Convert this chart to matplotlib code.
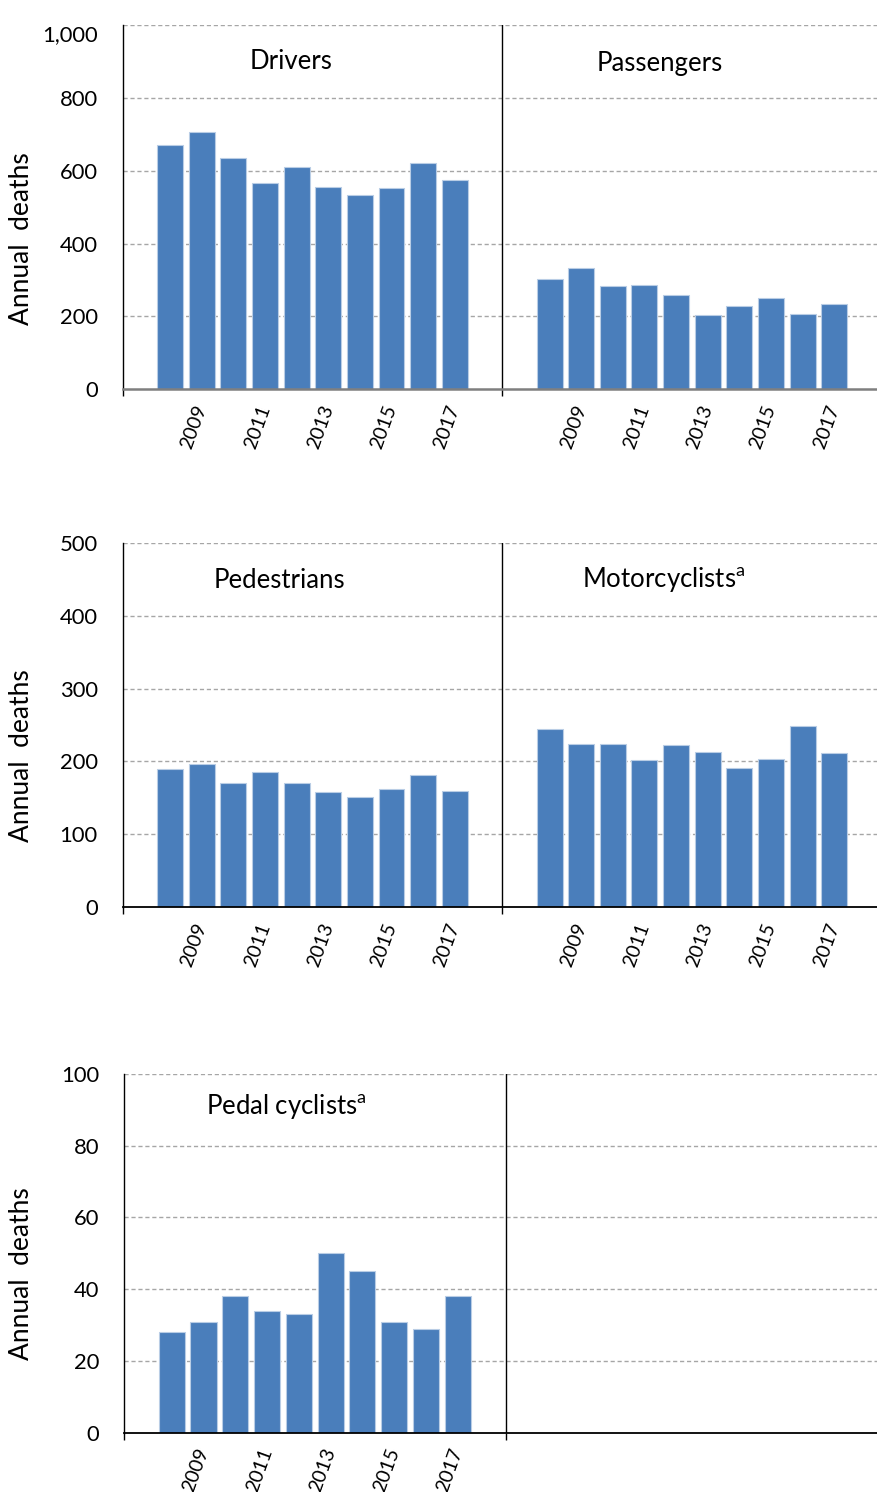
import matplotlib
matplotlib.use("Agg")
import matplotlib.pyplot as plt
from matplotlib.transforms import ScaledTranslation

plt.rcParams['font.family'] = ['Lato', 'DejaVu Sans']
plt.rcParams['mathtext.fontset'] = 'custom'
plt.rcParams['mathtext.rm'] = 'Lato'

# ---------------- data ----------------
years = [2008, 2009, 2010, 2011, 2012, 2013, 2014, 2015, 2016, 2017]
label_years = [2009, 2011, 2013, 2015, 2017]

drivers = [670, 706, 636, 567, 609, 556, 532, 553, 622, 574]
passengers = [302, 332, 283, 285, 258, 203, 228, 250, 207, 235]
pedestrians = [189, 196, 170, 186, 170, 158, 151, 162, 182, 160]
motorcyclists = [245, 224, 224, 202, 223, 213, 191, 203, 249, 211]
pedal_cyclists = [28, 31, 38, 34, 33, 50, 45, 31, 29, 38]

row1_ticks = [0, 200, 400, 600, 800, 1000]
row1_ticklabels = ['0', '200', '400', '600', '800', '1,000']
row2_ticks = [0, 100, 200, 300, 400, 500]
row3_ticks = [0, 20, 40, 60, 80, 100]

titles = ['Drivers', 'Passengers', 'Pedestrians',
          r'Motorcyclists$^{\mathrm{a}}$', r'Pedal cyclists$^{\mathrm{a}}$']

# ---------------- style ----------------
W, H = 877, 1492
BAR = '#4a7ebb'
EDGE = '#b9cde5'
GRID = '#a6a6a6'

fig = plt.figure(figsize=(W / 100, H / 100), dpi=100)


def fx(x):
    return x / W


def fy(y):
    return 1 - y / H


def make_row(left_px, right_px, top_px, bottom_px, left_vals, right_vals,
             ticks, ticklabels, ymax, axis_color, axis_lw):
    ax = fig.add_axes([fx(left_px), fy(bottom_px),
                       (right_px - left_px) / W, (bottom_px - top_px) / H])
    nslot = 12
    idx = list(range(len(years)))
    xl = [i + 1.5 for i in idx]
    ax.bar(xl, left_vals, width=0.82, color=BAR, edgecolor=EDGE,
           linewidth=0.8, zorder=3)
    if right_vals is not None:
        xr = [nslot + i + 1.5 for i in idx]
        ax.bar(xr, right_vals, width=0.82, color=BAR, edgecolor=EDGE,
               linewidth=0.8, zorder=3)
    ax.set_xlim(0, 2 * nslot)
    ax.set_ylim(0, ymax)
    ax.set_yticks(ticks)
    ax.set_yticklabels(ticklabels)
    ax.tick_params(axis='y', length=0, pad=18, labelsize=15.8)
    for t in ticks[1:]:
        ax.axhline(t, color=GRID, lw=1.0, linestyle=(0, (3, 2)), zorder=1)
    # panel separator
    ax.axvline(nslot, color='black', lw=1.0, zorder=4)
    # major ticks at panel boundaries (no labels)
    ax.set_xticks([0, nslot])
    ax.set_xticklabels(['', ''])
    ax.tick_params(axis='x', which='major', length=5, width=1.0,
                   direction='out', color='black')
    # minor ticks carry the year labels
    pos = [years.index(y) + 1.5 for y in label_years]
    labs = [str(y) for y in label_years]
    if right_vals is not None:
        pos += [nslot + years.index(y) + 1.5 for y in label_years]
        labs += [str(y) for y in label_years]
    ax.set_xticks(pos, minor=True)
    ax.set_xticklabels(labs, minor=True, rotation=70, ha='right',
                       va='center', rotation_mode='anchor', fontsize=14)
    ax.tick_params(axis='x', which='minor', length=0, pad=11.5)
    for s in ['top', 'right']:
        ax.spines[s].set_visible(False)
    ax.spines['left'].set_color('black')
    ax.spines['left'].set_linewidth(1.0)
    ax.spines['bottom'].set_color(axis_color)
    ax.spines['bottom'].set_linewidth(axis_lw)
    ax.spines['bottom'].set_zorder(5)
    return ax


ax1 = make_row(122.7, 881.6, 25, 389.3, drivers, passengers,
               row1_ticks, row1_ticklabels, 1000, '#7f7f7f', 1.8)
# shift top label down like the original
top_lbl = ax1.yaxis.get_major_ticks()[-1].label1
top_lbl.set_transform(top_lbl.get_transform() +
                      ScaledTranslation(0, -8 / 100, fig.dpi_scale_trans))

ax2 = make_row(122.7, 881.6, 542.7, 907.3, pedestrians, motorcyclists,
               row2_ticks, [str(t) for t in row2_ticks], 500, 'black', 1.3)
ax3 = make_row(124, 887, 1074, 1432.7, pedal_cyclists, None,
               row3_ticks, [str(t) for t in row3_ticks], 100, 'black', 1.3)

# y labels
for yc in [239, 756, 1274]:
    fig.text(fx(22), fy(yc), 'Annual  deaths', rotation=90, ha='center',
             va='center', fontsize=19)

# panel titles
title_pos = [(250, 69), (596.7, 71), (213.3, 588.3), (581.7, 588.3),
             (205.7, 1115)]
for t, (x, y) in zip(titles, title_pos):
    fig.text(fx(x), fy(y), t, ha='left', va='baseline', fontsize=18.5)

fig.savefig('out.png', dpi=100)
